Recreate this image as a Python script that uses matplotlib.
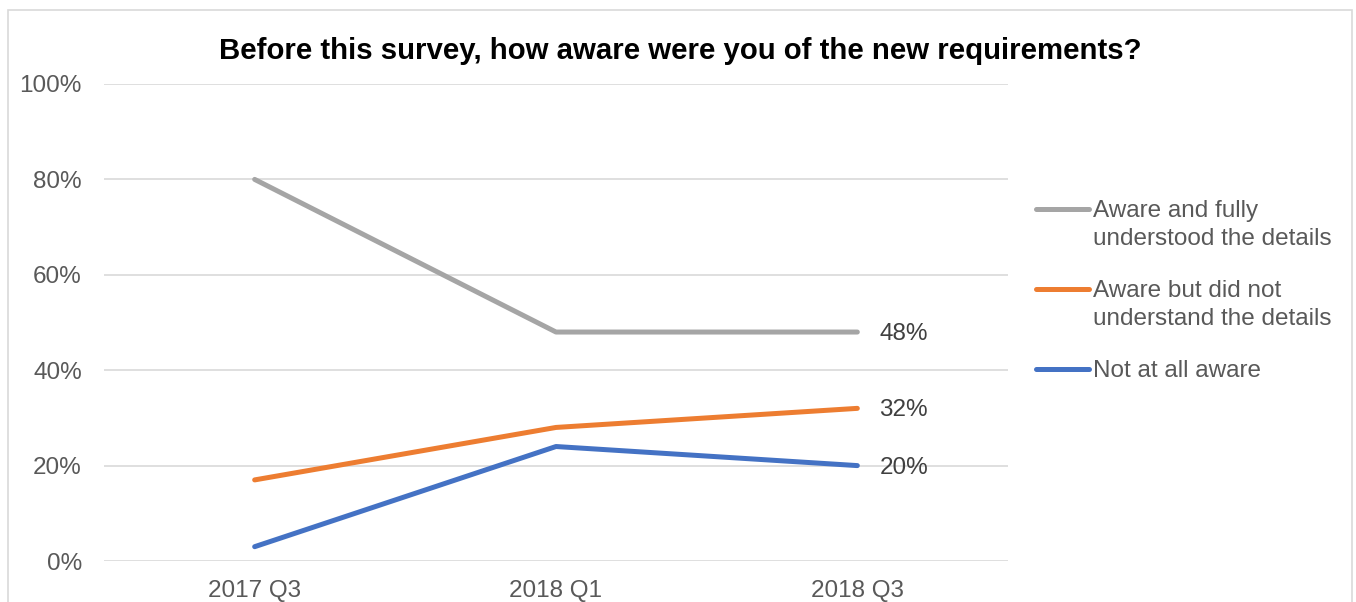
import matplotlib
matplotlib.use("Agg")
import matplotlib.pyplot as plt
from matplotlib.lines import Line2D
from matplotlib.patches import Rectangle
from matplotlib.ticker import PercentFormatter

plt.rcParams['font.family'] = ['Liberation Sans', 'DejaVu Sans']

categories = ["2017 Q3", "2018 Q1", "2018 Q3"]
fully_aware = [80, 48, 48]
aware_not_understood = [17, 28, 32]
not_aware = [3, 24, 20]

series_names = [
    ["Aware and fully", "understood the details"],
    ["Aware but did not", "understand the details"],
    ["Not at all aware"],
]
colors = ["#A5A5A5", "#ED7D31", "#4472C4"]
series = [fully_aware, aware_not_understood, not_aware]

W, H = 1356, 602
FS = 17.5
fig = plt.figure(figsize=(W / 100, H / 100), dpi=100)
ax = fig.add_axes([104 / W, 1 - 561 / H, (1008 - 104) / W, (561 - 84) / H])

x = list(range(len(categories)))
for vals, c in zip(series, colors):
    ax.plot(x, vals, color=c, lw=3.6, solid_capstyle='round', solid_joinstyle='round', zorder=3)
    ax.annotate(f"{vals[-1]}%", (x[-1], vals[-1]), xytext=(16, -1.5), textcoords='offset points',
                ha='left', va='center', fontsize=FS, color='#404040')

ax.set_xlim(-0.5, 2.5)
ax.set_ylim(0, 100)
ax.set_yticks([0, 20, 40, 60, 80, 100])
ax.yaxis.set_major_formatter(PercentFormatter(decimals=0))
ax.set_xticks(x)
ax.set_xticklabels(categories)
ax.grid(axis='y', color='#D9D9D9', lw=1.2, zorder=0)
ax.set_axisbelow(True)
for s in ax.spines.values():
    s.set_visible(False)
ax.tick_params(axis='both', length=0, labelsize=FS, colors='#595959')
ax.tick_params(axis='y', pad=16)
ax.tick_params(axis='x', pad=14)

fig.text(680 / W, 1 - 51 / H, "Before this survey, how aware were you of the new requirements?",
         ha='center', va='center', fontsize=21.2, fontweight='bold', color='black')

# legend drawn in figure pixels
leg_y = [209, 289, 369]
line_step = 28
for lines, c, yy in zip(series_names, colors, leg_y):
    fy = 1 - yy / H
    fig.add_artist(Line2D([1036 / W, 1089 / W], [fy, fy], color=c, lw=3.6,
                          solid_capstyle='round', transform=fig.transFigure))
    for i, txt in enumerate(lines):
        fig.text(1093 / W, 1 - (yy + 2 + i * line_step) / H, txt, ha='left', va='center',
                 fontsize=FS, color='#595959', transform=fig.transFigure)

# outer chart border
fig.add_artist(Rectangle((8 / W, -0.1), (1352 - 8) / W, 1 - 10 / H + 0.1,
                         transform=fig.transFigure, fill=False, ec='#D9D9D9', lw=1.2))

fig.savefig("out.png", dpi=100)
